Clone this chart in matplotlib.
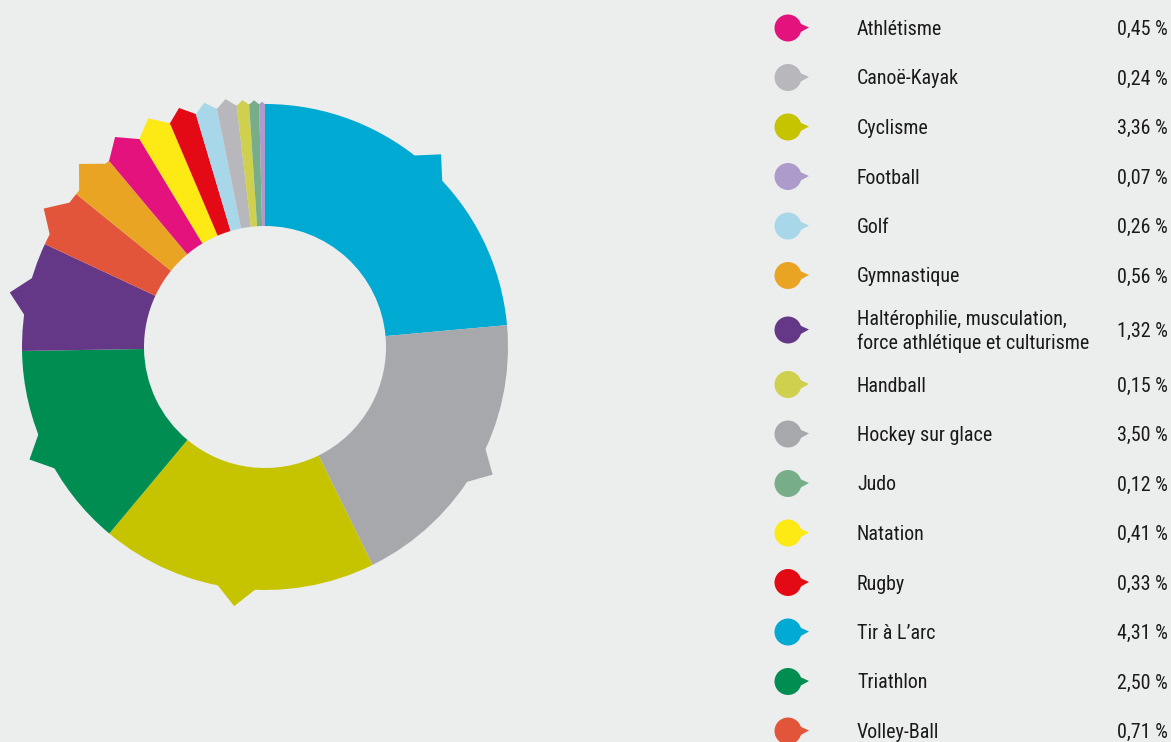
import numpy as np
import matplotlib.pyplot as plt
from matplotlib.patches import Polygon, Wedge, Circle
from matplotlib import font_manager

# legend order (alphabetical), values in %
sports = ['Athlétisme', 'Canoë-Kayak', 'Cyclisme', 'Football', 'Golf', 'Gymnastique',
          'Haltérophilie, musculation,\nforce athlétique et culturisme', 'Handball',
          'Hockey sur glace', 'Judo', 'Natation', 'Rugby', 'Tir à L’arc', 'Triathlon',
          'Volley-Ball']
values = [0.45, 0.24, 3.36, 0.07, 0.26, 0.56, 1.32, 0.15, 3.50, 0.12, 0.41, 0.33, 4.31, 2.50, 0.71]
colors = ['#e4127c', '#b8b8bc', '#c6c400', '#ad9bcb', '#a8d7ea', '#e9a423',
          '#643886', '#cfd04e', '#a7a8ac', '#77ae89', '#fde914', '#e30915',
          '#00aad2', '#008d52', '#e3553a']

names = {f.name for f in font_manager.fontManager.ttflist}
fam = 'Roboto Condensed' if 'Roboto Condensed' in names else 'Roboto'
plt.rcParams['font.family'] = [fam, 'DejaVu Sans']

W, H = 1171, 742
bg = '#eceeed'
fig = plt.figure(figsize=(W / 100, H / 100), dpi=100, facecolor=bg)
ax = fig.add_axes([0, 0, 1, 1])
ax.set_facecolor(bg)

# donut, largest first, clockwise from the top
cx, cy = 265, H - 347
R, width = 243, 122
order = np.argsort(-np.array(values), kind='stable')
wedges, _ = ax.pie(np.array(values)[order], colors=[colors[i] for i in order],
                   startangle=90, counterclock=False, radius=R, center=(cx, cy),
                   wedgeprops=dict(width=width, linewidth=0))

# small pointer on the outer edge of each slice (smaller on thin slices)
h = 18
c = np.array([cx, cy])
for w in wedges:
    dth = np.deg2rad(w.theta2 - w.theta1)
    th = np.deg2rad((w.theta1 + w.theta2) / 2)
    u = np.array([np.cos(th), np.sin(th)])
    p = np.array([-np.sin(th), np.cos(th)])
    half = min(h, R * np.sin(dth / 2))
    tall = min(h, 0.8 * R * np.sin(dth / 2))
    base = c + (R - 2) * u
    tri = Polygon([base + (half + 2) * p, c + (R + tall) * u, base - (half + 2) * p],
                  closed=True, facecolor=w.get_facecolor(), linewidth=0)
    ax.add_patch(tri)
    clip = Wedge((cx, cy), R + 60, w.theta1, w.theta2)
    clip.set_transform(ax.transData)
    tri.set_clip_path(clip)

# legend
for i, (name, val, col) in enumerate(zip(sports, values, colors)):
    yp = 28 + i * 49.5 + 10 * (i > 6) + 5 * (i == 6)
    y = H - yp
    ax.add_patch(Circle((788, y), 13.5, facecolor=col, linewidth=0))
    ax.add_patch(Polygon([(799, y + 5), (809, y + 0.5), (799, y - 5)], closed=True,
                         facecolor=col, linewidth=0))
    lines = name.split('\n')
    for k, line in enumerate(lines):
        yb = y - 7 - (k - (len(lines) - 1) / 2) * 24
        ax.text(857, yb, line, fontsize=14.4, color='#1a1a1a', va='baseline', ha='left')
    ax.text(1168, y - 7, f'{val:.2f}'.replace('.', ',') + ' %', fontsize=14.4,
            color='#1a1a1a', va='baseline', ha='right')

ax.set_xlim(0, W)
ax.set_ylim(0, H)
ax.set_aspect('equal')
ax.set_axis_off()

fig.savefig('out.png', dpi=100, facecolor=bg)
